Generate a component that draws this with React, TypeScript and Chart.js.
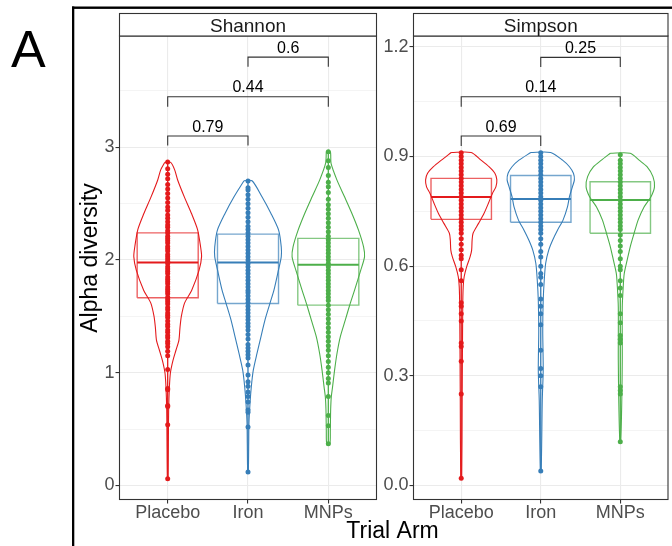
import React, { useEffect, useRef } from 'react';
import { Chart, registerables } from 'chart.js';
Chart.register(...registerables);

const FONT = "'Liberation Sans', Arial, Helvetica, sans-serif";

// ---------- data ----------
const categories = ['Placebo', 'Iron', 'MNPs'];
const armColors = ['#E41A1C', '#377EB8', '#4DAF4A'];

// tick values
const shannonTicks = [0, 0.5, 1, 1.5, 2, 2.5, 3, 3.5];
const shannonMajor = [0, 1, 2, 3];
const simpsonTicks = [0, 0.15, 0.3, 0.45, 0.6, 0.75, 0.9, 1.05, 1.2];
const simpsonMajor = [0, 0.3, 0.6, 0.9, 1.2];

// observed values (points) per arm
const shannonPlacebo = [0.06, 0.54, 0.70, 0.71, 0.85, 0.86, 1.03, 1.15, 1.19, 1.23, 1.26, 1.28, 1.31, 1.33, 1.36, 1.38, 1.41, 1.43, 1.46, 1.49, 1.51, 1.53, 1.56, 1.58, 1.61, 1.63, 1.65, 1.67, 1.70, 1.72, 1.74, 1.76, 1.79, 1.81, 1.83, 1.85, 1.88, 1.90, 1.92, 1.94, 1.97, 1.99, 2.01, 2.03, 2.05, 2.08, 2.10, 2.12, 2.15, 2.17, 2.19, 2.21, 2.24, 2.26, 2.29, 2.31, 2.34, 2.37, 2.40, 2.44, 2.47, 2.51, 2.55, 2.59, 2.63, 2.67, 2.72, 2.76, 2.81, 2.87];
const shannonIron = [0.12, 0.52, 0.65, 0.67, 0.74, 0.79, 0.83, 0.88, 0.92, 0.98, 1.07, 1.13, 1.16, 1.19, 1.22, 1.25, 1.30, 1.34, 1.38, 1.41, 1.44, 1.47, 1.50, 1.53, 1.56, 1.59, 1.62, 1.65, 1.68, 1.71, 1.73, 1.76, 1.79, 1.82, 1.85, 1.88, 1.91, 1.94, 1.97, 2.00, 2.03, 2.06, 2.09, 2.12, 2.15, 2.18, 2.21, 2.24, 2.27, 2.30, 2.34, 2.38, 2.42, 2.46, 2.50, 2.54, 2.58, 2.62, 2.64, 2.70];
const shannonMNPs = [0.37, 0.53, 0.62, 0.79, 0.91, 0.95, 1.00, 1.05, 1.10, 1.15, 1.20, 1.24, 1.28, 1.32, 1.36, 1.40, 1.44, 1.48, 1.52, 1.56, 1.60, 1.64, 1.67, 1.70, 1.73, 1.76, 1.79, 1.82, 1.85, 1.88, 1.91, 1.94, 1.97, 2.00, 2.03, 2.06, 2.09, 2.12, 2.15, 2.18, 2.21, 2.25, 2.29, 2.33, 2.37, 2.41, 2.45, 2.49, 2.54, 2.60, 2.65, 2.69, 2.75, 2.82, 2.88, 2.96];
const simpsonPlacebo = [0.02, 0.25, 0.34, 0.38, 0.39, 0.45, 0.47, 0.49, 0.50, 0.56, 0.59, 0.62, 0.63, 0.645, 0.66, 0.675, 0.69, 0.70, 0.71, 0.72, 0.73, 0.74, 0.75, 0.76, 0.77, 0.78, 0.79, 0.80, 0.81, 0.82, 0.83, 0.84, 0.85, 0.86, 0.87, 0.88, 0.89, 0.90, 0.91];
const simpsonIron = [0.04, 0.27, 0.30, 0.32, 0.37, 0.44, 0.47, 0.49, 0.51, 0.55, 0.57, 0.58, 0.60, 0.625, 0.64, 0.66, 0.675, 0.69, 0.70, 0.71, 0.72, 0.73, 0.74, 0.75, 0.76, 0.77, 0.78, 0.79, 0.80, 0.81, 0.82, 0.83, 0.84, 0.85, 0.86, 0.87, 0.88, 0.89, 0.90, 0.91];
const simpsonMNPs = [0.12, 0.25, 0.26, 0.27, 0.39, 0.40, 0.41, 0.445, 0.47, 0.52, 0.54, 0.56, 0.59, 0.60, 0.62, 0.64, 0.655, 0.67, 0.685, 0.70, 0.71, 0.72, 0.73, 0.74, 0.75, 0.76, 0.77, 0.78, 0.79, 0.80, 0.81, 0.82, 0.83, 0.84, 0.85, 0.86, 0.87, 0.88, 0.89, 0.905];

// violin density profiles: [value, half-width in category units]
const shannonPlaceboViolin = [[2.866, 0.037], [2.80, 0.087], [2.71, 0.124], [2.56, 0.207], [2.41, 0.298], [2.27, 0.372], [2.12, 0.409], [2.03, 0.422], [1.91, 0.391], [1.73, 0.298], [1.62, 0.211], [1.50, 0.170], [1.40, 0.153], [1.29, 0.140], [1.20, 0.103], [1.11, 0.066], [1.00, 0.034], [0.87, 0.021], [0.67, 0.012], [0.43, 0.009], [0.056, 0.004]];
const shannonIronViolin = [[2.703, 0.050], [2.561, 0.174], [2.413, 0.286], [2.265, 0.381], [2.117, 0.414], [2.028, 0.414], [1.910, 0.379], [1.733, 0.323], [1.615, 0.273], [1.467, 0.211], [1.319, 0.161], [1.171, 0.112], [1.023, 0.066], [0.875, 0.041], [0.730, 0.025], [0.553, 0.012], [0.375, 0.009], [0.121, 0.004]];
const shannonMNPsViolin = [[2.960, 0.025], [2.857, 0.034], [2.709, 0.108], [2.561, 0.202], [2.413, 0.294], [2.265, 0.376], [2.117, 0.439], [2.028, 0.451], [1.910, 0.404], [1.733, 0.327], [1.615, 0.273], [1.467, 0.211], [1.319, 0.149], [1.171, 0.108], [1.023, 0.078], [0.875, 0.053], [0.786, 0.037], [0.668, 0.029], [0.491, 0.025], [0.366, 0.019]];
const simpsonPlaceboViolin = [[0.911, 0.125], [0.890, 0.249], [0.872, 0.349], [0.854, 0.423], [0.836, 0.448], [0.817, 0.436], [0.799, 0.392], [0.772, 0.342], [0.744, 0.286], [0.717, 0.218], [0.690, 0.149], [0.671, 0.137], [0.644, 0.131], [0.626, 0.112], [0.598, 0.068], [0.571, 0.037], [0.544, 0.025], [0.489, 0.019], [0.233, 0.012], [0.017, 0.006]];
const simpsonIronViolin = [[0.911, 0.125], [0.890, 0.274], [0.872, 0.361], [0.854, 0.411], [0.836, 0.423], [0.817, 0.398], [0.790, 0.361], [0.762, 0.336], [0.726, 0.280], [0.699, 0.212], [0.671, 0.149], [0.644, 0.100], [0.608, 0.062], [0.562, 0.044], [0.507, 0.031], [0.425, 0.025], [0.316, 0.031], [0.233, 0.019], [0.044, 0.006]];
const simpsonMNPsViolin = [[0.909, 0.125], [0.890, 0.237], [0.872, 0.336], [0.845, 0.411], [0.817, 0.430], [0.790, 0.386], [0.762, 0.299], [0.726, 0.224], [0.690, 0.174], [0.653, 0.125], [0.617, 0.087], [0.580, 0.050], [0.544, 0.037], [0.489, 0.025], [0.343, 0.025], [0.233, 0.019], [0.121, 0.006]];

// box stats [q1, median, q3]
const shannonBoxes = [[1.665, 1.979, 2.241], [1.615, 1.979, 2.230], [1.600, 1.957, 2.192]];
const simpsonBoxes = [[0.728, 0.789, 0.840], [0.720, 0.7835, 0.848], [0.690, 0.781, 0.831]];

// comparisons
const bracketPairs = [[1, 2], [1, 3], [2, 3]];
const shannonBracketY = [3.10, 3.448, 3.80];
const shannonBracketTip = [3.015, 3.36, 3.714];
const shannonPValues = ['0.79', '0.44', '0.6'];
const simpsonBracketY = [0.956, 1.0635, 1.171];
const simpsonBracketTip = [0.929, 1.036, 1.145];
const simpsonPValues = ['0.69', '0.14', '0.25'];

const BOX_HALF = 0.38;

function violinPolygon(c: number, profile: number[][]) {
  const left = profile.map(([v, w]) => ({ x: c - w, y: v }));
  const right = profile.slice().reverse().map(([v, w]) => ({ x: c + w, y: v }));
  return [...left, ...right, left[0]];
}

type PanelSpec = {
  title: string;
  yMin: number;
  yMax: number;
  ticks: number[];
  major: number[];
  fmt: (v: number) => string;
  points: number[][];
  violins: number[][][];
  boxes: number[][];
  bY: number[];
  bTip: number[];
  pLabels: string[];
  padRight: number;
  axisWidth: number;
  figure: boolean;
};

function buildConfig(p: PanelSpec): any {
  const datasets: any[] = [];
  p.violins.forEach((prof, i) => {
    datasets.push({
      data: violinPolygon(i + 1, prof),
      showLine: true,
      borderColor: armColors[i],
      borderWidth: 1.1,
      pointRadius: 0,
      tension: 0.25,
      fill: false,
    });
  });
  p.boxes.forEach((b, i) => {
    const c = i + 1;
    datasets.push({
      data: [
        { x: c - BOX_HALF, y: b[0] }, { x: c + BOX_HALF, y: b[0] },
        { x: c + BOX_HALF, y: b[2] }, { x: c - BOX_HALF, y: b[2] },
        { x: c - BOX_HALF, y: b[0] },
      ],
      showLine: true,
      borderColor: armColors[i] + 'B0',
      borderWidth: 1.4,
      pointRadius: 0,
      tension: 0,
    });
    datasets.push({
      data: [{ x: c - BOX_HALF, y: b[1] }, { x: c + BOX_HALF, y: b[1] }],
      showLine: true,
      borderColor: armColors[i],
      borderWidth: 2,
      pointRadius: 0,
    });
  });
  p.points.forEach((vals, i) => {
    datasets.push({
      data: vals.slice().sort((a, b) => a - b).map((v) => ({ x: i + 1, y: v })),
      showLine: true,
      borderColor: armColors[i],
      borderWidth: 1.3,
      pointRadius: 2.5,
      pointBackgroundColor: armColors[i],
      pointBorderWidth: 0,
    });
  });
  bracketPairs.forEach((pair, i) => {
    datasets.push({
      data: [
        { x: pair[0], y: p.bTip[i] }, { x: pair[0], y: p.bY[i] },
        { x: pair[1], y: p.bY[i] }, { x: pair[1], y: p.bTip[i] },
      ],
      showLine: true,
      borderColor: '#333333',
      borderWidth: 1.1,
      pointRadius: 0,
      tension: 0,
    });
  });

  const isMajor = (v: number) => p.major.some((m) => Math.abs(m - v) < 1e-6);

  const decor = {
    id: 'decor',
    afterDatasetsDraw(chart: any) {
      const { ctx, scales } = chart;
      ctx.save();
      ctx.font = `16px ${FONT}`;
      ctx.fillStyle = '#000';
      ctx.textAlign = 'center';
      ctx.textBaseline = 'alphabetic';
      bracketPairs.forEach((pair, i) => {
        const x = (scales.x.getPixelForValue(pair[0]) + scales.x.getPixelForValue(pair[1])) / 2;
        const y = scales.y.getPixelForValue(p.bY[i]) - 4.5;
        ctx.fillText(p.pLabels[i], x, y);
      });
      ctx.restore();
    },
    afterDraw(chart: any) {
      const { ctx, chartArea: a } = chart;
      ctx.save();
      ctx.strokeStyle = '#333333';
      ctx.lineWidth = 1.1;
      ctx.strokeRect(a.left, a.top, a.right - a.left, a.bottom - a.top);
      const stripTop = 13.5;
      ctx.fillStyle = '#FFFFFF';
      ctx.fillRect(a.left, stripTop, a.right - a.left, a.top - stripTop);
      ctx.strokeRect(a.left, stripTop, a.right - a.left, a.top - stripTop);
      ctx.fillStyle = '#1A1A1A';
      ctx.font = `19px ${FONT}`;
      ctx.textAlign = 'center';
      ctx.textBaseline = 'alphabetic';
      ctx.fillText(p.title, (a.left + a.right) / 2, 31.5);
      if (p.figure) {
        ctx.fillStyle = '#000';
        ctx.font = `52px ${FONT}`;
        ctx.textAlign = 'left';
        ctx.fillText('A', 11, 66.5);
        ctx.fillRect(72, 6.5, 2.3, 546 - 6.5);
        ctx.fillRect(72, 6.5, 600, 2.4);
        ctx.font = `23px ${FONT}`;
        ctx.textAlign = 'center';
        ctx.fillText('Trial Arm', 392.5, 538);
        ctx.translate(97, 258);
        ctx.rotate(-Math.PI / 2);
        ctx.fillText('Alpha diversity', 0, 0);
      }
      ctx.restore();
    },
  };

  return {
    type: 'scatter',
    data: { datasets },
    plugins: [decor],
    options: {
      animation: false,
      responsive: false,
      events: [],
      layout: { padding: { left: 0, right: p.padRight, top: 36, bottom: 0 } },
      plugins: { legend: { display: false }, tooltip: { enabled: false } },
      scales: {
        x: {
          type: 'linear',
          min: 0.4,
          max: 3.6,
          afterBuildTicks: (s: any) => { s.ticks = [1, 2, 3].map((v) => ({ value: v })); },
          afterFit: (s: any) => { s.height = 46.5; },
          border: { display: false },
          grid: { color: '#EBEBEB', lineWidth: 1.1, tickColor: '#333333', tickLength: 4, tickWidth: 1.1 },
          ticks: {
            autoSkip: false,
            maxRotation: 0,
            padding: -1,
            color: '#4D4D4D',
            font: { family: FONT, size: 18 },
            callback: (v: number) => categories[Math.round(v) - 1],
          },
        },
        y: {
          type: 'linear',
          min: p.yMin,
          max: p.yMax,
          afterBuildTicks: (s: any) => { s.ticks = p.ticks.map((v) => ({ value: v })); },
          afterFit: (s: any) => { s.width = p.axisWidth; },
          border: { display: false },
          grid: {
            color: '#EBEBEB',
            lineWidth: (c: any) => (c.tick && isMajor(c.tick.value) ? 1.1 : 0.55),
            tickColor: (c: any) => (c.tick && isMajor(c.tick.value) ? '#333333' : 'rgba(0,0,0,0)'),
            tickLength: 4,
            tickWidth: 1.1,
          },
          ticks: {
            autoSkip: false,
            padding: 1,
            color: '#4D4D4D',
            font: { family: FONT, size: 18 },
            callback: (v: number) => (isMajor(v) ? p.fmt(v) : ''),
          },
        },
      },
    },
  };
}

const shannonSpec: PanelSpec = {
  title: 'Shannon',
  yMin: -0.124,
  yMax: 3.987,
  ticks: shannonTicks,
  major: shannonMajor,
  fmt: (v) => String(Math.round(v)),
  points: [shannonPlacebo, shannonIron, shannonMNPs],
  violins: [shannonPlaceboViolin, shannonIronViolin, shannonMNPsViolin],
  boxes: shannonBoxes,
  bY: shannonBracketY,
  bTip: shannonBracketTip,
  pLabels: shannonPValues,
  padRight: 295.5,
  axisWidth: 119.5,
  figure: true,
};

const simpsonSpec: PanelSpec = {
  title: 'Simpson',
  yMin: -0.0383,
  yMax: 1.2296,
  ticks: simpsonTicks,
  major: simpsonMajor,
  fmt: (v) => v.toFixed(1),
  points: [simpsonPlacebo, simpsonIron, simpsonMNPs],
  violins: [simpsonPlaceboViolin, simpsonIronViolin, simpsonMNPsViolin],
  boxes: simpsonBoxes,
  bY: simpsonBracketY,
  bTip: simpsonBracketTip,
  pLabels: simpsonPValues,
  padRight: 2,
  axisWidth: 413.5,
  figure: false,
};

export default function App() {
  const ref1 = useRef<HTMLCanvasElement>(null);
  const ref2 = useRef<HTMLCanvasElement>(null);
  useEffect(() => {
    const c1 = new Chart(ref1.current as HTMLCanvasElement, buildConfig(shannonSpec));
    const c2 = new Chart(ref2.current as HTMLCanvasElement, buildConfig(simpsonSpec));
    return () => { c1.destroy(); c2.destroy(); };
  }, []);
  const st: React.CSSProperties = { position: 'absolute', left: 0, top: 0, width: 672, height: 546 };
  return (
    <div style={{ position: 'fixed', left: 0, top: 0, width: 672, height: 546, background: '#fff' }}>
      <canvas ref={ref1} width={672} height={546} style={st} />
      <canvas ref={ref2} width={672} height={546} style={st} />
    </div>
  );
}
